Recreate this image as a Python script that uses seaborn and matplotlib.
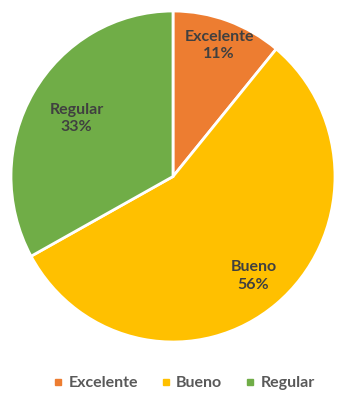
import numpy as np
import matplotlib
matplotlib.use("Agg")
import matplotlib.pyplot as plt
from matplotlib.lines import Line2D
import seaborn as sns

categories = ["Excelente", "Bueno", "Regular"]
shares = [11, 56, 33]
pct_labels = ["11%", "56%", "33%"]
label_radius = [0.84, 0.78, 0.69]

sns.set_theme(style="white")
plt.rcParams["font.family"] = ["Lato", "DejaVu Sans"]
palette = sns.color_palette(["#ED7D31", "#FFC000", "#70AD47"])

W, H = 337, 396
fig = plt.figure(figsize=(W / 100, H / 100), dpi=100)
ax = fig.add_axes([11 / W, 54 / H, 324 / W, 331 / H])

wedges, _ = ax.pie(
    shares,
    colors=palette,
    startangle=90,
    counterclock=False,
    radius=1.0,
    wedgeprops=dict(edgecolor="white", linewidth=2),
)
ax.set_xlim(-1, 1)
ax.set_ylim(-1, 1)
ax.set_aspect("auto")
ax.axis("off")

for w, cat, pct, r in zip(wedges, categories, pct_labels, label_radius):
    mid = np.deg2rad((w.theta1 + w.theta2) / 2)
    ax.text(r * np.cos(mid), r * np.sin(mid), f"{cat}\n{pct}",
            ha="center", va="center", fontsize=11.5, fontweight="bold",
            color="#404040", linespacing=1.3)

handles = [Line2D([], [], marker="s", linestyle="none", markersize=5,
                  markerfacecolor=c, markeredgecolor=c) for c in palette]
fig.legend(handles, categories, loc="center", bbox_to_anchor=(0.545, 13 / H),
           ncol=3, frameon=False, handletextpad=0.3,
           columnspacing=1.4, handlelength=0.7,
           prop={"weight": "bold", "size": 11.5})
for t in fig.legends[0].get_texts():
    t.set_color("#595959")

fig.savefig("out.png", dpi=100)
